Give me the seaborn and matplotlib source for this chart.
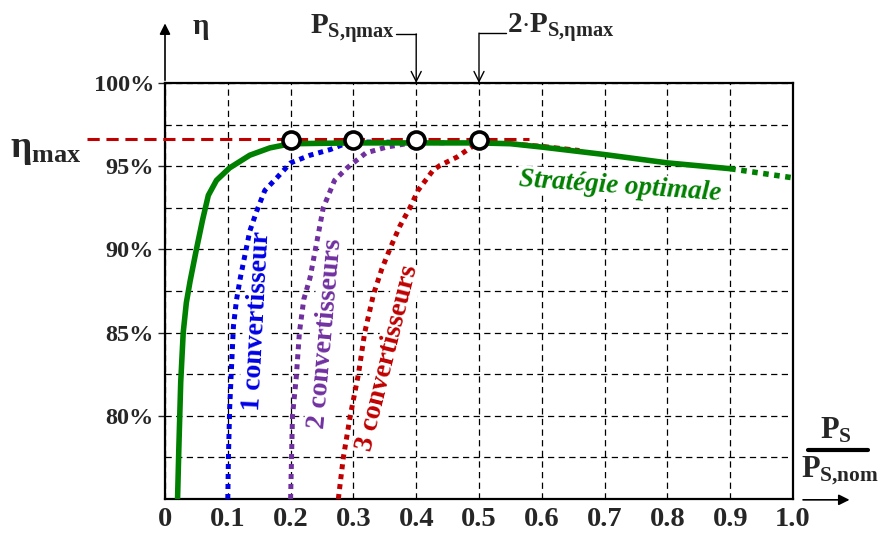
import numpy as np
import pandas as pd
import matplotlib
matplotlib.use("Agg")
import matplotlib.pyplot as plt
import seaborn as sns

# valeurs (x = P_S / P_S,nom, y = rendement en %)
x_opt = [0.02, 0.022, 0.025, 0.029, 0.034, 0.04, 0.05, 0.06, 0.069, 0.082, 0.103, 0.135, 0.167,
         0.2, 0.3, 0.4, 0.5, 0.55, 0.6, 0.7, 0.8, 0.9]
y_opt = [75.0, 78.0, 82.0, 85.0, 86.8, 88.1, 90.0, 91.8, 93.25, 94.15, 94.9, 95.66, 96.1,
         96.35, 96.4, 96.4, 96.4, 96.35, 96.15, 95.7, 95.2, 94.85]
x_opt_ext = [0.9, 1.0]
y_opt_ext = [94.85, 94.3]

x_1conv = [0.1, 0.101, 0.103, 0.106, 0.109, 0.114, 0.12, 0.135, 0.146, 0.159, 0.178, 0.2,
           0.231, 0.263, 0.29, 0.3, 0.35, 0.4]
y_1conv = [75.0, 77.5, 80.5, 83.0, 85.4, 87.0, 88.3, 91.1, 92.3, 93.55, 94.3, 95.2,
           95.66, 96.0, 96.4, 96.45, 96.45, 96.4]

x_2conv = [0.2, 0.203, 0.209, 0.214, 0.221, 0.231, 0.242, 0.252, 0.27, 0.29, 0.32, 0.353, 0.4,
           0.45]
y_2conv = [75.0, 80.0, 82.3, 85.0, 87.0, 88.3, 90.5, 92.5, 94.15, 94.9, 95.8, 96.15, 96.45,
           96.4]

x_3conv = [0.276, 0.284, 0.295, 0.308, 0.318, 0.332, 0.345, 0.36, 0.374, 0.39, 0.403, 0.427,
           0.438, 0.465, 0.486, 0.5]
y_3conv = [75.0, 77.5, 80.0, 82.5, 85.0, 87.3, 88.8, 90.2, 91.4, 92.5, 93.55, 94.76,
           95.05, 95.55, 96.1, 96.45]
x_3conv_ext = [0.5, 0.55, 0.6, 0.66]
y_3conv_ext = [96.45, 96.4, 96.25, 96.0]

x_points = [0.2, 0.3, 0.4, 0.5]
y_points = [96.55, 96.55, 96.55, 96.55]
eta_max = 96.63

xticks = [0, 0.1, 0.2, 0.3, 0.4, 0.5, 0.6, 0.7, 0.8, 0.9, 1.0]
xtick_labels = ["0", "0.1", "0.2", "0.3", "0.4", "0.5", "0.6", "0.7", "0.8", "0.9", "1.0"]
yticks = [80, 85, 90, 95, 100]
ytick_labels = ["80%", "85%", "90%", "95%", "100%"]
ygrid = [77.5, 82.5, 87.5, 92.5, 97.5]

c_green = "#008000"
c_blue = "#0000E6"
c_purple = "#7030A0"
c_red = "#C00000"

sns.set_theme(style="white")
plt.rcParams["font.family"] = ["Liberation Serif", "DejaVu Serif"]
plt.rcParams["font.weight"] = "bold"
plt.rcParams["mathtext.fontset"] = "custom"
plt.rcParams["mathtext.rm"] = "Liberation Serif:bold"
plt.rcParams["mathtext.it"] = "Liberation Serif:bold"
plt.rcParams["mathtext.bf"] = "Liberation Serif:bold"

fig = plt.figure(figsize=(8.8, 5.35), dpi=100)
ax = fig.add_axes([165 / 880, 1 - 499 / 535, 628 / 880, 416 / 535])

dots = (0, (1, 1.0))

# courbes
sns.lineplot(x=x_3conv_ext, y=y_3conv_ext, ax=ax, color=c_red, lw=2.2, linestyle=(0, (2, 1.5)),
             sort=False, estimator=None, zorder=3)
sns.lineplot(x=x_1conv, y=y_1conv, ax=ax, color=c_blue, lw=3.6, linestyle=dots,
             sort=False, estimator=None, zorder=3)
sns.lineplot(x=x_2conv, y=y_2conv, ax=ax, color=c_purple, lw=3.6, linestyle=dots,
             sort=False, estimator=None, zorder=3)
sns.lineplot(x=x_3conv, y=y_3conv, ax=ax, color=c_red, lw=3.6, linestyle=dots,
             sort=False, estimator=None, zorder=3)
sns.lineplot(x=x_opt, y=y_opt, ax=ax, color=c_green, lw=4.0, sort=False, estimator=None, zorder=4)
sns.lineplot(x=x_opt_ext, y=y_opt_ext, ax=ax, color=c_green, lw=4.0, linestyle=dots,
             sort=False, estimator=None, zorder=4)

# eta max
ax.plot([-0.124, 0.58], [eta_max, eta_max], color=c_red, lw=2.2, linestyle=(0, (4, 2.2)),
        clip_on=False, zorder=3.5)

sns.scatterplot(x=x_points, y=y_points, ax=ax, s=150, color="white", edgecolor="black",
                linewidth=2.6, zorder=6)

ax.set_xlim(0, 1.0)
ax.set_ylim(75, 100)
ax.set_xticks(xticks)
ax.set_xticklabels(xtick_labels, fontsize=20.5, fontweight="bold")
ax.set_yticks(yticks)
ax.set_yticklabels(ytick_labels, fontsize=17.5, fontweight="bold")
ax.set_yticks(ygrid, minor=True)
ax.tick_params(axis="x", length=0, pad=6)
ax.tick_params(axis="y", which="major", length=5, width=1, direction="out", pad=3, left=True)
ax.tick_params(axis="y", which="minor", length=0)
ax.set_axisbelow(True)
ax.grid(True, which="both", color="black", lw=0.9, linestyle=(0, (5, 3.5)))
for s in ax.spines.values():
    s.set_color("black")
    s.set_linewidth(1.6)
ax.set_xlabel("")
ax.set_ylabel("")

# etiquettes des courbes
box = dict(facecolor="white", edgecolor="none", pad=1)
ax.text(0.1465, 85.7, "1 convertisseur", color=c_blue, fontsize=20, fontweight="bold",
        rotation=87, ha="center", va="center", rotation_mode="anchor", bbox=box, zorder=2.5)
ax.text(0.256, 84.95, "2 convertisseurs", color=c_purple, fontsize=20, fontweight="bold",
        rotation=85, ha="center", va="center", rotation_mode="anchor", bbox=box, zorder=2.5)
ax.text(0.355, 83.5, "3 convertisseurs", color=c_red, fontsize=20, fontweight="bold",
        rotation=76, ha="center", va="center", rotation_mode="anchor", bbox=box, zorder=2.5)
ax.text(0.7245, 93.8, "Stratégie optimale", color=c_green, fontsize=19.5, fontweight="bold",
        fontstyle="italic", rotation=-4, ha="center", va="center", rotation_mode="anchor",
        bbox=box, zorder=2.5)

# eta max a gauche
ax.text(-0.19, 96.0, r"$\eta_{max}$", fontsize=27, ha="center", va="center", clip_on=False)

# fleche de l'axe y et eta
ax.annotate("", xy=(0, 1.15), xycoords="axes fraction", xytext=(0, 1.0),
            arrowprops=dict(arrowstyle="-|>", color="black", lw=1.2, mutation_scale=16))
ax.text(0.056, 1.13, r"$\eta$", transform=ax.transAxes, fontsize=21, ha="center", va="center")

# annotations du haut
trans = ax.get_xaxis_transform()
ax.plot([0.368, 0.4], [1.118, 1.118], color="black", lw=1, transform=trans, clip_on=False)
ax.annotate("", xy=(0.4, 1.0), xycoords=trans, xytext=(0.4, 1.118), textcoords=trans,
            arrowprops=dict(arrowstyle="->", color="black", lw=1, mutation_scale=18,
                            shrinkA=0, shrinkB=0))
ax.text(0.366, 1.118, r"$P_{S{,}\eta max}$", transform=trans, fontsize=21, ha="right",
        va="baseline")
ax.plot([0.5, 0.543], [1.12, 1.12], color="black", lw=1, transform=trans, clip_on=False)
ax.annotate("", xy=(0.5, 1.0), xycoords=trans, xytext=(0.5, 1.12), textcoords=trans,
            arrowprops=dict(arrowstyle="->", color="black", lw=1, mutation_scale=18,
                            shrinkA=0, shrinkB=0))
ax.text(0.545, 1.12, r"$2{\cdot}P_{S{,}\eta max}$", transform=trans, fontsize=21, ha="left",
        va="baseline")

# axe x : fraction et fleche
ax.text(1.068, 0.165, r"$P_S$", transform=ax.transAxes, fontsize=22, ha="center", va="center")
ax.plot([1.024, 1.12], [0.118, 0.118], color="black", lw=3, transform=ax.transAxes,
        clip_on=False)
ax.text(1.075, 0.068, r"$P_{S{,}nom}$", transform=ax.transAxes, fontsize=22, ha="center",
        va="center")
ax.annotate("", xy=(1.09, -0.002), xycoords="axes fraction", xytext=(1.016, -0.002),
            arrowprops=dict(arrowstyle="-|>", color="black", lw=1.2, mutation_scale=16,
                            shrinkA=0, shrinkB=0))

fig.savefig("out.png", dpi=100)
